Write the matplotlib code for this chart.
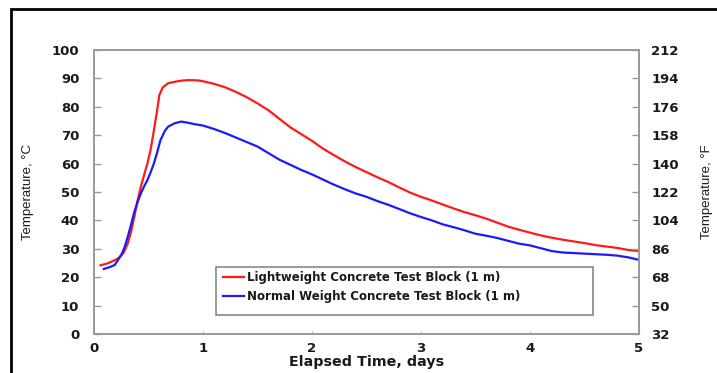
import matplotlib
matplotlib.use("Agg")
import matplotlib.pyplot as plt
from matplotlib.patches import Rectangle

plt.rcParams['font.family'] = ['DejaVu Sans']

# Lightweight concrete (red)
t_light = [0.06, 0.12, 0.18, 0.22, 0.27, 0.31, 0.34, 0.37, 0.40, 0.43, 0.46, 0.49, 0.52, 0.55,
           0.58, 0.60, 0.63, 0.68, 0.74, 0.80, 0.86, 0.95, 1.0, 1.1, 1.2, 1.3, 1.4, 1.5, 1.6,
           1.7, 1.8, 1.9, 2.0, 2.1, 2.2, 2.3, 2.4, 2.5, 2.6, 2.7, 2.8, 2.9, 3.0, 3.1, 3.2,
           3.3, 3.4, 3.5, 3.6, 3.7, 3.8, 3.9, 4.0, 4.1, 4.2, 4.3, 4.4, 4.5, 4.6, 4.7, 4.8,
           4.9, 5.0]
temp_light = [24.2, 24.8, 25.8, 26.6, 28.5, 31.9, 36.0, 41.3, 47.0, 51.9, 56.0, 60.1, 65.0, 71.8,
              79.0, 84.2, 86.8, 88.3, 88.8, 89.2, 89.4, 89.3, 89.0, 88.1, 86.9, 85.3, 83.4, 81.2, 78.8,
              75.8, 72.8, 70.4, 68.0, 65.3, 63.0, 60.8, 58.8, 57.0, 55.2, 53.5, 51.6, 49.8, 48.3, 47.0, 45.6,
              44.2, 42.9, 41.8, 40.6, 39.2, 37.8, 36.7, 35.7, 34.7, 33.9, 33.2, 32.6, 32.0, 31.3, 30.8, 30.3,
              29.6, 29.2]

# Normal weight concrete (blue)
t_normal = [0.09, 0.14, 0.19, 0.25, 0.28, 0.31, 0.34, 0.37, 0.40, 0.43, 0.46, 0.49, 0.52, 0.55,
            0.58, 0.61, 0.65, 0.68, 0.74, 0.80, 0.86, 0.92, 1.0, 1.1, 1.2, 1.3, 1.4, 1.5, 1.6,
            1.7, 1.8, 1.9, 2.0, 2.1, 2.2, 2.3, 2.4, 2.5, 2.6, 2.7, 2.8, 2.9, 3.0, 3.1, 3.2,
            3.3, 3.4, 3.5, 3.6, 3.7, 3.8, 3.9, 4.0, 4.1, 4.2, 4.3, 4.4, 4.5, 4.6, 4.7, 4.8,
            4.9, 5.0]
temp_normal = [22.9, 23.5, 24.3, 27.8, 30.5, 34.3, 38.5, 43.0, 46.5, 49.5, 52.0, 54.2, 57.0, 60.1,
               64.0, 68.3, 71.5, 73.0, 74.2, 74.8, 74.4, 73.9, 73.4, 72.2, 70.8, 69.2, 67.6, 66.0, 63.7,
               61.4, 59.6, 57.8, 56.2, 54.4, 52.6, 51.0, 49.5, 48.3, 46.8, 45.5, 44.0, 42.5, 41.2, 40.0, 38.6,
               37.6, 36.5, 35.3, 34.6, 33.8, 32.8, 31.8, 31.2, 30.2, 29.2, 28.7, 28.5, 28.3, 28.1, 27.9, 27.6,
               27.0, 26.1]

x_ticks = [0, 1, 2, 3, 4, 5]
c_ticks = [0, 10, 20, 30, 40, 50, 60, 70, 80, 90, 100]
f_labels = ['32', '50', '68', '86', '104', '122', '140', '158', '176', '194', '212']

label_light = 'Lightweight Concrete Test Block (1 m)'
label_normal = 'Normal Weight Concrete Test Block (1 m)'

TXT = '#1a1a1a'
GRAY = '#999999'

fig = plt.figure(figsize=(7.17, 3.73), dpi=100)
W, H = 717, 373

# outer frame (partially visible)
fig.patches.append(Rectangle((11 / W, -0.2), 1.2, 1 - 9 / H + 0.2, transform=fig.transFigure,
                             fill=False, edgecolor='black', linewidth=2.0))

ax = fig.add_axes([94 / W, 1 - 334 / H, (639 - 94) / W, (334 - 50) / H])
ax.plot(t_light, temp_light, color='#ff1a1a', lw=1.6, label=label_light)
ax.plot(t_normal, temp_normal, color='#1a1aff', lw=1.6, label=label_normal)

ax.set_xlim(0, 5)
ax.set_ylim(0, 100)
ax.set_xticks(x_ticks)
ax.set_yticks(c_ticks)
ax.set_xticklabels([str(v) for v in x_ticks], fontsize=9.5, fontweight='bold', color=TXT)
ax.set_yticklabels([str(v) for v in c_ticks], fontsize=9.5, fontweight='bold', color=TXT)
ax.tick_params(axis='y', direction='in', length=5, color=GRAY, width=1, pad=10.5)
ax.tick_params(axis='x', direction='in', length=2, color='#bbbbbb', width=1, pad=6)
for s in ax.spines.values():
    s.set_color(GRAY)
    s.set_linewidth(1.2)

ax2 = ax.twinx()
ax2.set_ylim(0, 100)
ax2.set_yticks(c_ticks)
ax2.set_yticklabels(f_labels, fontsize=9.5, fontweight='bold', color=TXT)
ax2.tick_params(axis='y', direction='in', length=5, color=GRAY, width=1, pad=9)
for s in ax2.spines.values():
    s.set_color(GRAY)
    s.set_linewidth(1.2)

ax.set_ylabel('Temperature, °C', fontsize=9.5, color=TXT, labelpad=13,
              family=['Liberation Sans', 'DejaVu Sans'])
ax2.set_ylabel('Temperature, °F', fontsize=9.5, color=TXT, labelpad=16,
               family=['Liberation Sans', 'DejaVu Sans'])
ax.set_xlabel('Elapsed Time, days', fontsize=10.3, fontweight='bold', color=TXT, labelpad=0)

# legend box drawn separately (the original has extra space beneath the entries)
ax.add_patch(Rectangle((1.12, 6.7), 4.58 - 1.12, 23.6 - 6.7, fill=False,
                       edgecolor='#888888', linewidth=1.2, zorder=3))
leg = ax.legend(loc='upper left', bbox_to_anchor=((223 - 94) / 545, (334 - 271.5) / 284),
                frameon=False, prop={'weight': 'bold', 'size': 8.5},
                handlelength=1.8, handletextpad=0.2, borderpad=0, borderaxespad=0,
                labelspacing=0.45)
for t in leg.get_texts():
    t.set_color(TXT)

fig.savefig('out.png', dpi=100)
